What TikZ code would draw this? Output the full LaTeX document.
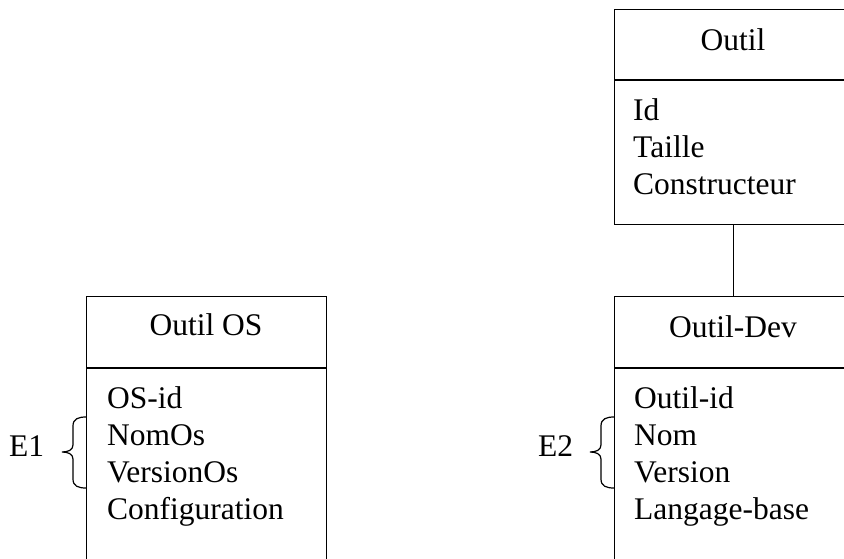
\documentclass[tikz,border=0pt]{standalone}
\usepackage{fontspec}
\setmainfont{Liberation Serif}
\begin{document}
\begin{tikzpicture}[x=1pt,y=-1pt,
  box/.style={draw, line width=1.4pt, rectangle, inner sep=0pt, anchor=north west},
  lbl/.style={inner sep=0pt, anchor=base west, font=\fontsize{31.5}{37}\selectfont},
  ttl/.style={inner sep=0pt, anchor=base, font=\fontsize{31.5}{37}\selectfont},
  sep/.style={line width=1.4pt},
  brc/.style={line width=1.2pt}]
\useasboundingbox (0,0) rectangle (844,558);
\clip (0,0) rectangle (844,558);
% boxes
\node[box, minimum width=238pt, minimum height=215pt] (outil) at (614,9) {};
\node[box, minimum width=238pt, minimum height=290pt] (dev) at (614,296) {};
\node[box, minimum width=240pt, minimum height=290pt] (os) at (86,296) {};
\draw[sep] (outil.west |- 0,80) -- (outil.east |- 0,80);
\draw[sep] (dev.west |- 0,368) -- (dev.east |- 0,368);
\draw[sep] (os.west |- 0,368) -- (os.east |- 0,368);
\draw[sep] (outil.south) -- (dev.north);
% titles
\node[ttl] (tOutil) at (733,50) {Outil};
\node[ttl] (tDev) at (733,337) {Outil-Dev};
\node[ttl] (tOS) at (206,335) {Outil OS};
% attributes
\node[lbl] (a1) at (633,120.5) {Id};
\node[lbl] (a2) at (633,157.5) {Taille};
\node[lbl] (a3) at (633,194.5) {Constructeur};
\node[lbl] (d1) at (634,408) {Outil-id};
\node[lbl] (d2) at (634,445) {Nom};
\node[lbl] (d3) at (634,482) {Version};
\node[lbl] (d4) at (634,519) {Langage-base};
\node[lbl] (o1) at (107,408) {OS-id};
\node[lbl] (o2) at (107,445) {NomOs};
\node[lbl] (o3) at (107,482) {VersionOs};
\node[lbl] (o4) at (107,519) {Configuration};
% braces
\node[lbl] (e1) at (9,456) {E1};
\node[lbl] (e2) at (538,456) {E2};
\coordinate (b1t) at (86,417);
\coordinate (b1b) at (86,488);
\coordinate (b2t) at (614,417);
\coordinate (b2b) at (614,488);
\draw[brc] (b1t) .. controls (78,417) and (73,419) .. (73,426) -- (73,445)
  .. controls (73,450) and (68,452) .. (62,452)
  .. controls (68,452) and (73,454) .. (73,459) -- (73,479)
  .. controls (73,486) and (78,488) .. (b1b);
\draw[brc] (b2t) .. controls (606,417) and (601,419) .. (601,426) -- (601,445)
  .. controls (601,450) and (596,452) .. (590,452)
  .. controls (596,452) and (601,454) .. (601,459) -- (601,479)
  .. controls (601,486) and (606,488) .. (b2b);
\end{tikzpicture}
\end{document}
